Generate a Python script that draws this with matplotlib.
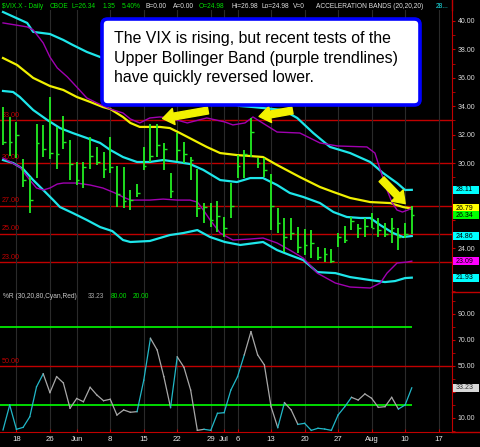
import matplotlib.pyplot as plt
from matplotlib.patches import FancyBboxPatch, Rectangle
from matplotlib.lines import Line2D
from matplotlib.ticker import MultipleLocator, FixedFormatter, FixedLocator
from matplotlib.transforms import blended_transform_factory

plt.rcParams['font.family'] = ['Liberation Sans', 'DejaVu Sans']

# daily VIX bars, bar 0 = first bar on the chart (mid May)
highs = [33.96, 33.24, 32.89, 30.28, 29.01, 32.75, 32.68, 34.65, 32.54, 33.31,
         31.62, 30.07, 30.07, 31.83, 31.13, 30.77, 31.83, 29.79, 29.72, 28.10,
         28.52, 31.13, 32.75, 32.75, 31.41, 29.30, 32.11, 31.48, 30.42, 29.58,
         27.18, 27.18, 27.32, 26.20, 28.59, 30.56, 30.92, 33.17, 30.35, 30.35,
         29.23, 26.83, 26.13, 26.13, 25.49, 25.35, 25.28, 24.08, 24.01, 23.94,
         25.07, 25.56, 26.20, 25.70, 26.13, 26.48, 26.13, 25.77, 26.13, 25.42,
         25.77, 26.98]
lows = [31.27, 30.49, 30.35, 28.31, 26.48, 28.94, 30.42, 30.28, 29.58, 30.99,
        28.80, 28.45, 28.24, 29.58, 29.86, 28.94, 29.30, 26.90, 26.83, 26.69,
        27.61, 29.51, 30.07, 30.42, 29.51, 27.54, 30.14, 30.00, 28.80, 26.20,
        25.77, 25.49, 25.14, 24.79, 26.13, 28.94, 28.94, 30.42, 29.65, 29.01,
        25.28, 25.07, 23.73, 24.58, 23.66, 23.52, 23.31, 23.17, 23.03, 22.96,
        24.08, 24.37, 25.28, 24.72, 24.79, 25.42, 24.79, 24.79, 24.37, 23.87,
        24.72, 24.98]
closes = [31.5, 31.5, 32.0, 28.8, 27.4, 31.4, 31.0, 30.7, 30.6, 31.5,
          29.9, 28.8, 29.7, 30.5, 30.1, 29.6, 29.7, 27.8, 27.3, 27.4,
          27.9, 29.8, 30.5, 31.3, 31.0, 28.0, 30.9, 30.6, 30.2, 26.8,
          26.9, 26.0, 26.3, 25.4, 27.0, 29.8, 30.6, 32.2, 30.0, 29.5,
          27.0, 25.8, 24.8, 25.1, 24.1, 24.2, 24.4, 23.4, 23.6, 23.1,
          24.8, 24.6, 25.9, 25.4, 25.6, 25.4, 25.3, 25.0, 25.4, 24.8,
          24.99, 26.34]

# acceleration bands (cyan), moving average (yellow), bollinger bands (purple)
acc_up_x = [0, 3.6, 4.5, 7, 9, 10.4, 12.5, 14.5, 25, 35.4, 37.3, 41.8, 43.9,
            46.3, 48.8, 51.8, 54.8, 56.7, 58.8, 60, 61]
acc_up = [40.63, 39.86, 39.23, 39.08, 38.66, 38.31, 37.82, 37.46, 35.49, 34.01,
          33.94, 33.73, 33.17, 32.11, 31.13, 30.70, 30.07, 29.30, 28.59, 28.10, 28.11]
acc_mid_x = [0, 1.5, 2.5, 4.5, 6.6, 8.5, 10.4, 12.5, 14.5, 16, 17.9, 20, 21.9,
             23.9, 26, 27.9, 29.9, 32.4, 34.9, 36.9, 38.8, 40.9, 42.8, 44.8,
             47.3, 49.3, 51.3, 53.3, 54.8, 56.3, 58.2, 59.7, 61]
acc_mid = [35.07, 35.00, 34.65, 33.73, 33.03, 32.46, 32.11, 31.76, 31.41, 30.92,
           30.42, 30.07, 30.07, 30.21, 30.07, 29.93, 29.51, 28.80, 28.66, 28.94,
           28.94, 28.45, 27.89, 27.61, 27.18, 26.55, 26.20, 26.13, 26.13, 25.63,
           25.07, 24.79, 24.86]
acc_lo_x = [0, 1.5, 3, 4.5, 6, 7.5, 8.5, 10.4, 12.5, 14.5, 16.3, 17.9, 19, 21.9,
            24.9, 26.9, 29, 30.9, 33.1, 35.4, 38.8, 40.9, 42.8, 44.8, 46.9, 49.6,
            51.8, 54.8, 57, 58.5, 60, 61]
acc_lo = [30.21, 30.00, 29.58, 28.80, 28.10, 27.39, 26.90, 26.48, 25.99, 25.49,
          25.21, 24.58, 24.44, 24.51, 24.93, 25.07, 25.28, 24.79, 24.44, 24.23,
          24.44, 23.87, 23.52, 23.17, 22.32, 22.25, 21.97, 21.76, 21.62, 21.69,
          21.90, 21.93]
avg_x = [0, 2.1, 4.5, 7, 9, 11, 13, 14.9, 16, 17.9, 19, 20.4, 21.9, 23.4, 24.9,
         26.4, 28.4, 30.4, 32.4, 34.9, 36.9, 38.8, 40.9, 44.3, 47.3, 49.3, 51.8,
         54.8, 57.8, 59.7, 61]
avg = [37.39, 36.90, 35.99, 35.42, 35.14, 34.65, 34.30, 33.94, 33.80, 33.24,
       32.82, 32.54, 32.54, 32.54, 32.46, 32.11, 31.62, 31.13, 30.70, 30.56,
       30.49, 30.42, 29.86, 29.01, 28.31, 27.96, 27.54, 27.25, 27.18, 26.90, 26.79]
bb_up_x = [0, 3.6, 4.5, 6, 7, 8.1, 9.6, 11, 12.5, 14, 16, 17.9, 19, 20.4, 21.9,
           23.4, 24.9, 27.5, 30.4, 33.1, 34.3, 36.1, 37.3, 40.9, 44.3, 47.3,
           49.9, 54.3, 55.5, 56.3, 57.3, 58.1, 58.8, 59.6, 60.4, 61]
bb_up = [39.86, 39.58, 39.37, 38.45, 37.46, 36.69, 36.06, 35.35, 34.58, 34.23,
         33.80, 33.52, 33.10, 32.82, 33.17, 33.24, 33.17, 32.82, 33.17, 32.89,
         32.68, 32.82, 33.24, 32.18, 32.11, 31.41, 31.20, 31.13, 30.70, 29.51,
         28.10, 27.18, 26.69, 26.55, 26.69, 26.83]
bb_lo_x = [0, 2.5, 4, 5, 6, 7, 8.1, 9, 11, 13, 14.9, 16.7, 17.9, 19, 20.4, 21.9,
           23.9, 26, 27.9, 29, 29.9, 30.9, 32.4, 34.3, 36.9, 38.8, 40.9, 42.8,
           44.8, 46.9, 49.6, 51.8, 54.8, 56.3, 57.3, 58.8, 60.3, 61]
bb_lo = [30.35, 29.72, 28.80, 28.24, 28.10, 28.24, 28.52, 28.59, 28.59, 28.45,
         28.24, 27.89, 27.61, 27.39, 27.39, 27.39, 27.46, 27.39, 27.39, 27.25,
         26.69, 25.99, 25.07, 24.58, 24.65, 24.72, 24.37, 23.87, 23.31, 22.25,
         21.55, 21.27, 21.20, 21.55, 22.25, 22.96, 23.03, 23.09]

# Williams %R
pct_r = [0.8, 20, 1.3, 2.8, 11, 34, 44, 29.5, 41.8, 37,
         17.5, 25, 22.5, 33.6, 27.7, 23.3, 24.4, 12.3, 16.2, 14.4,
         14.9, 39, 71.3, 62.3, 41.8, 18, 57, 49, 31.5, 0.5,
         1.3, 0.5, 13.6, 14.1, 31.5, 41.8, 58.5, 76.4, 58.5, 50.8,
         18.7, 2.6, 21.8, 16.2, 5.1, 5.9, 0.5, 2.1, 1.5, 0.5,
         12.3, 18.7, 25.9, 23.8, 28.5, 25.2, 18.2, 18.7, 25.9, 16.9,
         20, 33.23]
pct_r_cyan = [0, 1, 2, 3, 4, 5, 20, 21, 25, 30, 31, 32, 33, 34, 35, 41,
              44, 45, 46, 47, 48, 49, 50, 51, 59, 60]

date_pos = [2, 7, 11, 16, 21, 26, 31, 33, 35, 40, 45, 50, 55, 60, 65]
date_lbl = ['18', '26', 'Jun', '8', '15', '22', '29', 'Jul', '6', '13',
            '20', '27', 'Aug', '10', '17']
levels = [33, 30, 27, 25, 23]
last_vals = [28.11, 26.79, 26.34, 24.86, 23.09, 21.93]
last_cols = ['#00ffff', '#ffff00', '#00ff00', '#00ffff', '#ff00ff', '#00ffff']

RED = '#c00000'
W, H = 480, 447


def rect(l, t, r, b):
    return [l / W, 1 - b / H, (r - l) / W, (b - t) / H]


fig = plt.figure(figsize=(4.8, 4.47), dpi=100, facecolor='black')
ax = fig.add_axes(rect(0, 10, 452, 292))
ax2 = fig.add_axes(rect(0, 292, 452, 432), sharex=ax)

for a in (ax, ax2):
    a.set_facecolor('black')
    for s in ('top', 'left', 'bottom'):
        a.spines[s].set_visible(False)
    a.spines['right'].set_color(RED)
    a.yaxis.tick_right()
    a.tick_params(axis='y', which='both', colors=RED, labelcolor='#dcdcdc',
                  labelsize=5.0, pad=1.5, length=2.5)
    a.set_xticks(date_pos)
    a.grid(axis='x', color='#2a2a2a', lw=0.8)
ax2.spines['bottom'].set_visible(True)
ax2.spines['bottom'].set_color(RED)

x = list(range(len(highs)))
ax.set_xlim(-0.45, 67.0)
ax.set_ylim(20.92, 40.77)
ax2.set_ylim(-0.77, 106.9)

# price panel
for v in levels:
    ax.axhline(v, color=RED, lw=1.0, zorder=1)
    ax.text(0.004, v + 0.12, f'{v:.2f}', color=RED, fontsize=5.2,
            transform=ax.get_yaxis_transform(), va='bottom')
ax.plot(acc_up_x, acc_up, color='#1ee6ea', lw=1.6, zorder=3)
ax.plot(acc_mid_x, acc_mid, color='#1ee6ea', lw=1.6, zorder=3)
ax.plot(acc_lo_x, acc_lo, color='#1ee6ea', lw=1.6, zorder=3)
ax.plot(avg_x, avg, color='#f0f000', lw=1.6, zorder=3)
ax.plot(bb_up_x, bb_up, color='#a000b0', lw=1.0, zorder=3)
ax.plot(bb_lo_x, bb_lo, color='#a000b0', lw=1.0, zorder=3)
ax.vlines(x, lows, highs, color='#22ee22', lw=1.3, zorder=4)
ax.hlines(closes, x, [i + 0.4 for i in x], color='#22ee22', lw=1.0, zorder=4)

# labels hidden behind the last-value boxes are left blank
yt = list(range(22, 41, 2))
ax.yaxis.set_major_locator(FixedLocator(yt))
ax.yaxis.set_major_formatter(FixedFormatter(
    ['' if v in (22, 26, 28) else f'{v:.2f}' for v in yt]))
ax.yaxis.set_minor_locator(MultipleLocator(1))
ax.tick_params(axis='x', length=0, labelbottom=False)

# %R panel
ax2.axhline(50, color=RED, lw=1.0)
ax2.text(0.004, 51, '50.00', color=RED, fontsize=5.2,
         transform=ax2.get_yaxis_transform(), va='bottom')
ax2.hlines([80, 20], -0.45, x[-1], color='#00ff00', lw=1.2)
for i in range(len(pct_r) - 1):
    c = '#22b8c8' if i in pct_r_cyan else '#a8a8a8'
    ax2.plot([i, i + 1], [pct_r[i], pct_r[i + 1]], color=c, lw=0.9)
yt2 = [10, 30, 50, 70, 90]
ax2.yaxis.set_major_locator(FixedLocator(yt2))
ax2.yaxis.set_major_formatter(FixedFormatter(
    ['' if v == 30 else f'{v:.2f}' for v in yt2]))
ax2.yaxis.set_minor_locator(MultipleLocator(10))
ax2.set_xticks(date_pos, date_lbl)
ax2.tick_params(axis='x', colors=RED, labelcolor='#e8e8e8', labelsize=5.6,
                length=2.5, direction='in', pad=3)

# arrows
arrow = dict(arrowstyle='simple,head_length=0.9,head_width=1.3,tail_width=0.55',
             color='#f2f200', mutation_scale=9)
ax.annotate('', xy=(23.4, 33.10), xytext=(31.0, 33.73), arrowprops=arrow, zorder=6)
ax.annotate('', xy=(37.8, 33.24), xytext=(43.6, 33.73), arrowprops=arrow, zorder=6)
ax.annotate('', xy=(60.3, 27.0), xytext=(56.2, 29.0), arrowprops=arrow, zorder=6)

# comment box
fig.add_artist(FancyBboxPatch((102 / W, 1 - 105 / H), 318 / W, 86 / H,
                              boxstyle='round,pad=0,rounding_size=0.012',
                              transform=fig.transFigure, fc='white',
                              ec='#0000ff', lw=2.6, zorder=5))
note = ['The VIX is rising, but recent tests of the',
        'Upper Bollinger Band (purple trendlines)',
        'have quickly reversed lower.']
for k, line in enumerate(note):
    fig.text(114 / W, 1 - (38.5 + 19.5 * k) / H, line, fontsize=11.4,
             color='black', va='center', zorder=6)

# last-value boxes on the right scale
tr = blended_transform_factory(fig.transFigure, ax.transData)
for val, col in zip(last_vals, last_cols):
    fig.add_artist(Rectangle((453 / W, val - 0.29), 26 / W, 0.58, transform=tr,
                             fc=col, ec='none', zorder=6))
    fig.text(456 / W, val, f'{val:.2f}', transform=tr, fontsize=5.0,
             color='black', va='center', zorder=7)
tr2 = blended_transform_factory(fig.transFigure, ax2.transData)
fig.add_artist(Rectangle((453 / W, pct_r[-1] - 3.2), 26 / W, 6.4, transform=tr2,
                         fc='#d8d8d8', ec='none', zorder=6))
fig.text(456 / W, pct_r[-1], f'{pct_r[-1]:.2f}', transform=tr2, fontsize=5.0,
         color='#303030', va='center', zorder=7)

# header lines
top = 1 - 7 / H
head = [(2, '$VIX.X - Daily', '#00e000'), (50, 'CBOE', '#00e000'),
        (72, 'L=26.34', '#00e000'), (103, '1.35', '#00e000'),
        (122, '5.40%', '#00e000'), (146, 'B=0.00', '#e0e0e0'),
        (173, 'A=0.00', '#e0e0e0'), (199, 'O=24.98', '#00e000'),
        (232, 'Hi=26.98', '#e0e0e0'), (262, 'Lo=24.98', '#e0e0e0'),
        (293, 'V=0', '#e0e0e0'), (316, 'ACCELERATION BANDS (20,20,20)', '#e0e0e0'),
        (436, '28...', '#1ee6ea')]
for px, s, c in head:
    fig.text(px / W, top, s, color=c, fontsize=4.8, va='center')
low_y = 1 - 297 / H
for px, s, c in [(3, '%R (30,20,80,Cyan,Red)', '#c8c8c8'), (88, '33.23', '#a8a8a8'),
                 (111, '80.00', '#00e000'), (133, '20.00', '#00e000')]:
    fig.text(px / W, low_y, s, color=c, fontsize=4.8, va='center')

# frame pieces outside the panels
for xs, ys in [([452, 452], [0, 10]), ([452, 480], [292, 292]),
               ([452, 480], [432, 432])]:
    fig.add_artist(Line2D([v / W for v in xs], [1 - v / H for v in ys],
                          color=RED, lw=1.0, transform=fig.transFigure))

fig.savefig('out.png', dpi=100, facecolor='black')
